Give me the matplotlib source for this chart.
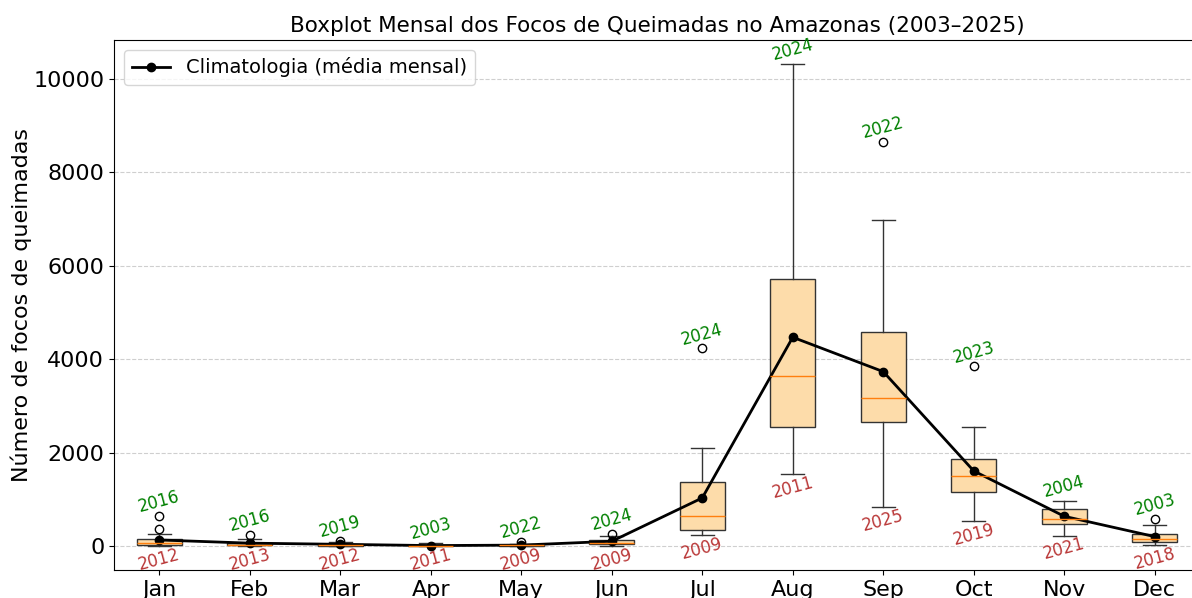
import numpy as np
from matplotlib import pyplot as plt

meses = ["Jan", "Feb", "Mar", "Apr", "May", "Jun",
         "Jul", "Aug", "Sep", "Oct", "Nov", "Dec"]

# estatisticas do boxplot (focos por mes, 2003-2025)
minimo = [0, 0, 0, 0, 0, 5, 229, 1535, 835, 535, 221, 21]
q1 = [20, 10, 5, 2, 3, 35, 343, 2548, 2648, 1149, 464, 93]
mediana = [55, 30, 15, 5, 10, 70, 642, 3640, 3176, 1499, 578, 150]
q3 = [150, 70, 40, 10, 25, 120, 1377, 5724, 4589, 1870, 800, 250]
maximo_whisker = [265, 150, 80, 70, 50, 205, 2105, 10328, 6981, 2548, 971, 450]
outliers = [[365, 640], [235], [105], [], [85], [255],
            [4233], [], [8658], [3848], [], [585]]
media = [128, 60, 35, 8, 18, 100, 1028, 4469, 3733, 1606, 635, 200]

ano_max = ["2016", "2016", "2019", "2003", "2022", "2024",
           "2024", "2024", "2022", "2023", "2004", "2003"]
ano_min = ["2012", "2013", "2012", "2011", "2009", "2009",
           "2009", "2011", "2025", "2019", "2021", "2018"]

stats = []
for i in range(12):
    stats.append({
        "whislo": minimo[i], "q1": q1[i], "med": mediana[i], "q3": q3[i],
        "whishi": maximo_whisker[i], "fliers": outliers[i], "label": meses[i],
    })

fig = plt.figure(figsize=(11.92, 5.98), dpi=100)
ax = fig.add_axes([114 / 1192, 28 / 598, 1086 / 1192, 530 / 598])

pos = np.arange(1, 13)
ax.bxp(stats, positions=pos, widths=0.5, patch_artist=True,
       boxprops=dict(facecolor="#fddcaa", edgecolor="#333333"),
       whiskerprops=dict(color="#333333"), capprops=dict(color="#333333"),
       medianprops=dict(color="tab:orange"))

ax.plot(pos, media, color="black", marker="o", markersize=6, linewidth=2,
        label="Climatologia (média mensal)")

for i in range(12):
    topo = max([maximo_whisker[i]] + outliers[i])
    ax.text(pos[i], topo + 300, ano_max[i], color="green", fontsize=12,
            rotation=15, ha="center", va="center")
    ax.text(pos[i], minimo[i] - 290, ano_min[i], color="firebrick", fontsize=12,
            rotation=15, ha="center", va="center", alpha=0.9)

ax.set_xlim(0.5, 12.5)
ax.set_ylim(-515, 10835)
ax.set_xticks(pos)
ax.set_xticklabels(meses)
ax.tick_params(labelsize=16)
ax.set_ylabel("Número de focos de queimadas", fontsize=16, labelpad=1)
ax.set_title("Boxplot Mensal dos Focos de Queimadas no Amazonas (2003–2025)",
             fontsize=15.5)
ax.grid(axis="y", linestyle="--", alpha=0.6)
ax.legend(loc="upper left", fontsize=14)

fig.savefig("out.png", dpi=100)
